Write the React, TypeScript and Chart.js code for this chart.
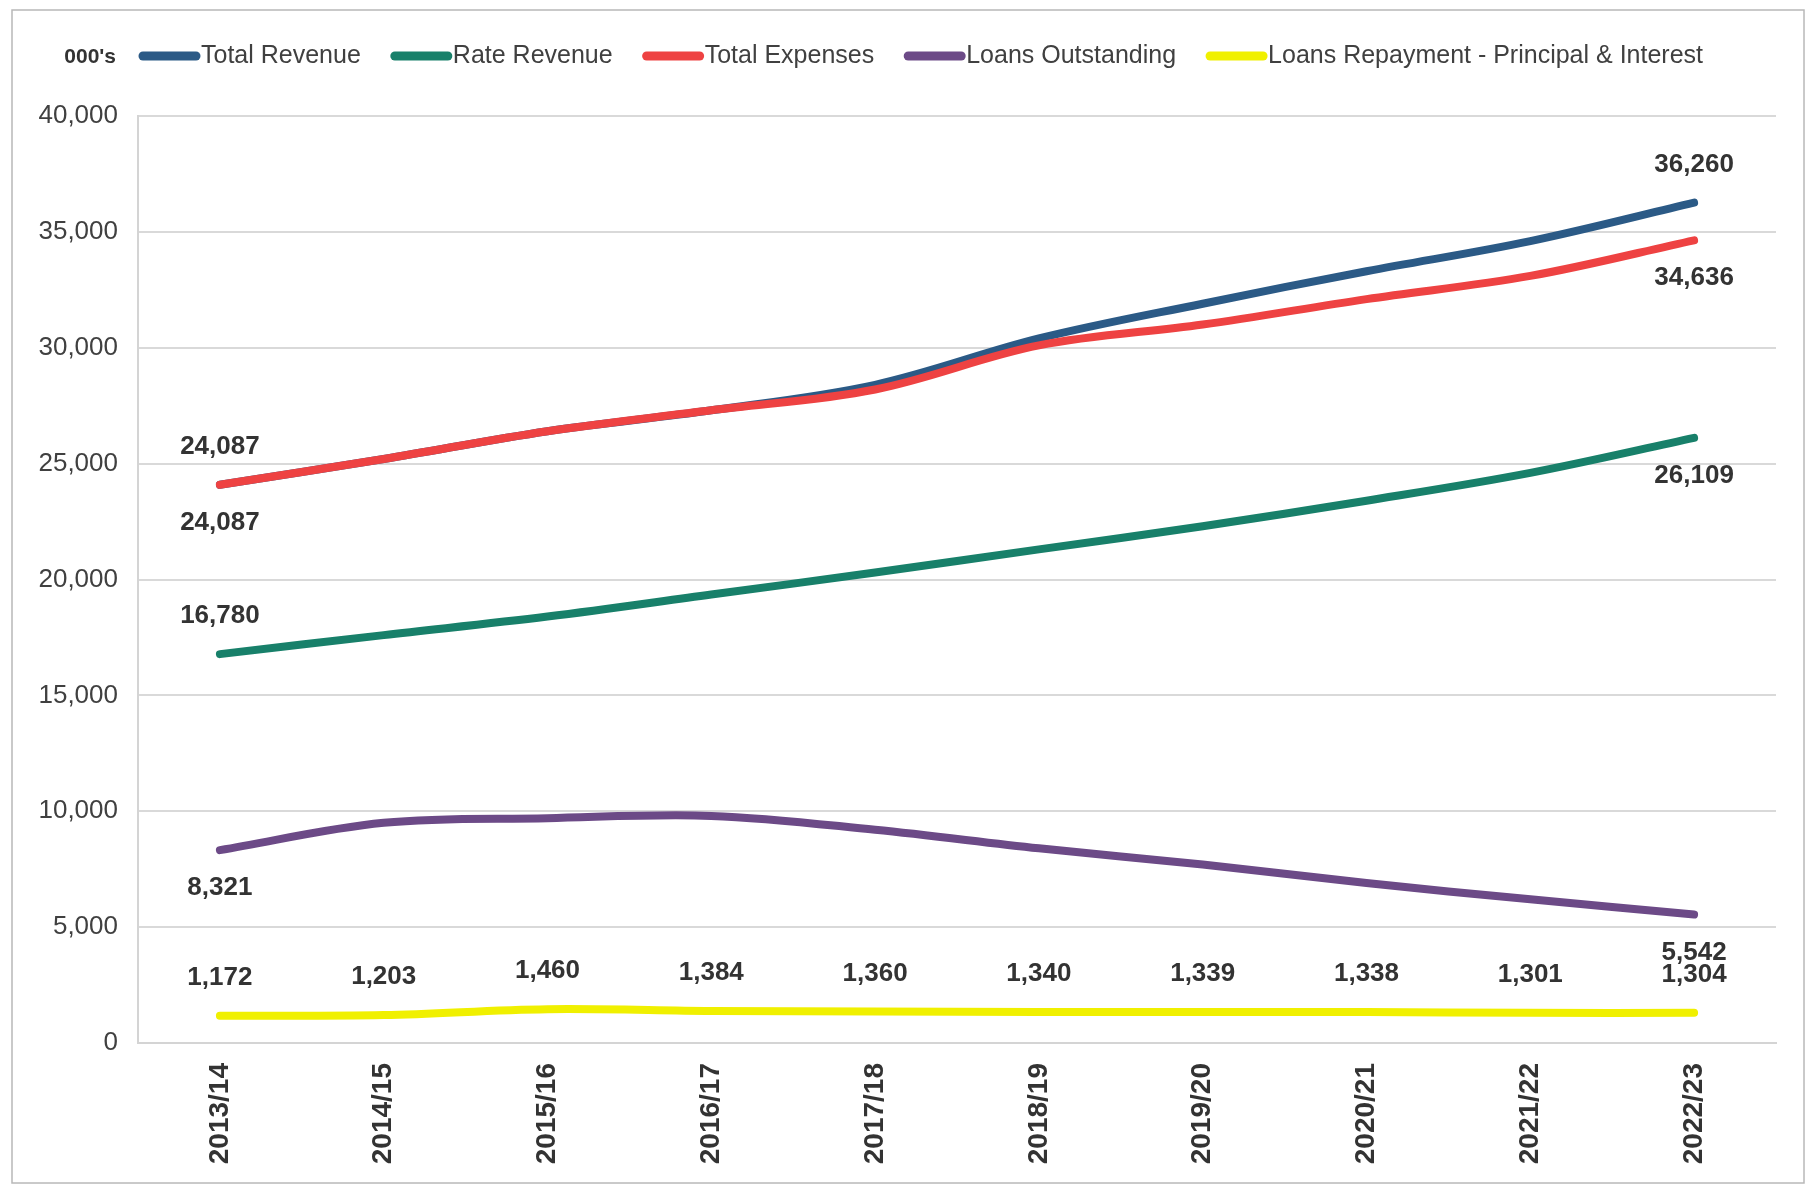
import React, { useEffect, useRef } from "react";
import { Chart, registerables } from "chart.js";

Chart.register(...registerables);

// Financial years on the category axis
const categories = [
  "2013/14", "2014/15", "2015/16", "2016/17", "2017/18",
  "2018/19", "2019/20", "2020/21", "2021/22", "2022/23",
];

// Series values, in thousands of dollars
const totalRevenue = [24087, 25200, 26400, 27300, 28400, 30400, 31900, 33300, 34600, 36260];
const rateRevenue = [16780, 17600, 18400, 19350, 20300, 21300, 22300, 23400, 24600, 26109];
const totalExpenses = [24087, 25200, 26400, 27300, 28200, 30100, 31000, 32100, 33100, 34636];
const loansOutstanding = [8321, 9500, 9700, 9800, 9200, 8400, 7700, 6900, 6200, 5542];
const loanRepayments = [1172, 1203, 1460, 1384, 1360, 1340, 1339, 1338, 1301, 1304];

// Y axis ticks
const yTicks = [0, 5000, 10000, 15000, 20000, 25000, 30000, 35000, 40000];

const FONT = "'Liberation Sans', Arial, sans-serif";
const fmt = (v: number) => v.toLocaleString("en-US");

// Value labels beside selected points: "above" or "below" the point
const valueLabels = {
  id: "valueLabels",
  afterDatasetsDraw(chart: any) {
    const ctx = chart.ctx;
    ctx.save();
    ctx.font = `bold 26px ${FONT}`;
    ctx.fillStyle = "#333333";
    ctx.textAlign = "center";
    ctx.textBaseline = "middle";
    chart.data.datasets.forEach((ds: any, i: number) => {
      const meta = chart.getDatasetMeta(i);
      (ds.valueLabels || []).forEach(([idx, where]: [number, string]) => {
        const pt = meta.data[idx];
        if (!pt) return;
        const dy = where === "above" ? -38 : 38;
        ctx.fillText(fmt(ds.data[idx]), pt.x, pt.y + dy);
      });
    });
    ctx.restore();
  },
};

// Single-row legend with the units caption in front
const topLegend = {
  id: "topLegend",
  afterDraw(chart: any) {
    const ctx = chart.ctx;
    const y = 56;
    ctx.save();
    ctx.textBaseline = "middle";
    ctx.font = `bold 21px ${FONT}`;
    ctx.fillStyle = "#333333";
    ctx.textAlign = "right";
    ctx.fillText("000's", 116, y + 1);
    ctx.textAlign = "left";
    ctx.font = `25px ${FONT}`;
    let x = 139;
    chart.data.datasets.forEach((ds: any) => {
      ctx.strokeStyle = ds.borderColor;
      ctx.lineWidth = 9;
      ctx.lineCap = "round";
      ctx.beginPath();
      ctx.moveTo(x + 4, y);
      ctx.lineTo(x + 57, y);
      ctx.stroke();
      x += 62;
      ctx.fillStyle = "#404040";
      ctx.fillText(ds.label, x, y);
      x += ctx.measureText(ds.label).width + 30;
    });
    ctx.restore();
  },
};

// Thin frame round the whole chart
const frame = {
  id: "frame",
  beforeDraw(chart: any) {
    const ctx = chart.ctx;
    ctx.save();
    ctx.fillStyle = "#ffffff";
    ctx.fillRect(0, 0, chart.width, chart.height);
    ctx.strokeStyle = "#b8b8b8";
    ctx.lineWidth = 1.5;
    ctx.strokeRect(12, 10, chart.width - 20, chart.height - 16);
    ctx.restore();
  },
};

export default function App() {
  const ref = useRef<HTMLCanvasElement>(null);

  useEffect(() => {
    if (!ref.current) return;
    const line = (label: string, data: number[], color: string, extra: any = {}) => ({
      label,
      data,
      borderColor: color,
      backgroundColor: color,
      borderWidth: 8,
      borderCapStyle: "round",
      pointRadius: 0,
      tension: 0.35,
      fill: false,
      ...extra,
    });
    const chart = new Chart(ref.current, {
      type: "line",
      data: {
        labels: categories,
        datasets: [
          line("Total Revenue", totalRevenue, "#2b5a86", { order: 1, valueLabels: [[0, "above"], [9, "above"]] }),
          line("Rate Revenue", rateRevenue, "#18806a", { order: 2, valueLabels: [[0, "above"], [9, "below"]] }),
          line("Total Expenses", totalExpenses, "#ee4242", { order: 0, valueLabels: [[0, "below"], [9, "below"]] }),
          line("Loans Outstanding", loansOutstanding, "#6c4a87", { order: 3, valueLabels: [[0, "below"], [9, "below"]] }),
          line("Loans Repayment - Principal & Interest", loanRepayments, "#f0f000", {
            order: 4,
            valueLabels: loanRepayments.map((_, i) => [i, "above"]),
          }),
        ] as any,
      },
      options: {
        animation: false,
        responsive: false,
        maintainAspectRatio: false,
        layout: { padding: { left: 0, right: 36, top: 116, bottom: 0 } },
        plugins: { legend: { display: false }, tooltip: { enabled: false } },
        scales: {
          x: {
            type: "category",
            offset: true,
            grid: { display: false, drawTicks: false },
            border: { display: true, color: "#d4d4d4", width: 2 },
            ticks: {
              minRotation: 90,
              maxRotation: 90,
              padding: 20,
              color: "#333333",
              font: { family: FONT, size: 28, weight: "bold" },
            },
            afterFit: (s: any) => { s.height = 146; },
          },
          y: {
            min: 0,
            max: 40000,
            afterBuildTicks: (s: any) => { s.ticks = yTicks.map((v) => ({ value: v })); },
            grid: { color: "#d9d9d9", lineWidth: 2, drawTicks: false },
            border: { display: true, color: "#d4d4d4", width: 2 },
            ticks: {
              padding: 20,
              color: "#404040",
              font: { family: FONT, size: 26 },
              callback: (v: any) => fmt(Number(v)),
            },
            afterFit: (s: any) => { s.width = 138; },
          },
        },
      } as any,
      plugins: [frame, valueLabels, topLegend],
    });
    return () => chart.destroy();
  }, []);

  return (
    <div style={{ position: "absolute", left: 0, top: 0, width: 1812, height: 1189 }}>
      <canvas ref={ref} width={1812} height={1189} style={{ display: "block" }} />
    </div>
  );
}
